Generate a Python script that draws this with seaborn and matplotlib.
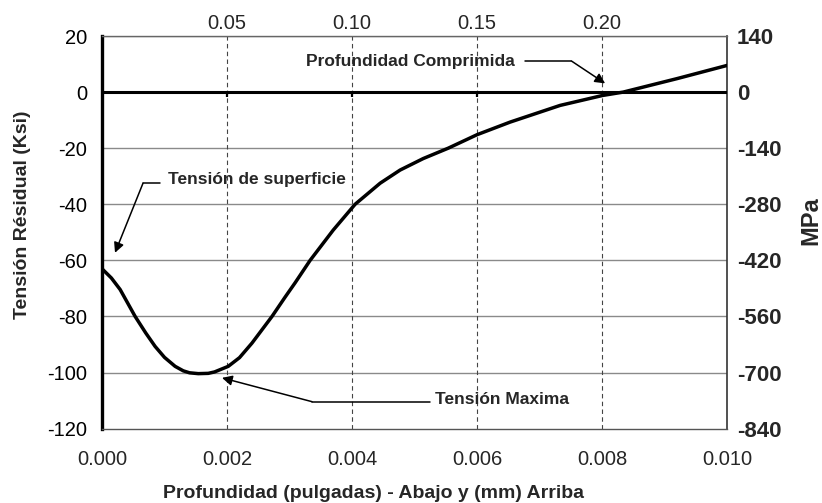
import numpy as np
import pandas as pd
import matplotlib
matplotlib.use("Agg")
import matplotlib.pyplot as plt
import seaborn as sns

# Data
depth_in = [0.0, 0.00015, 0.00029, 0.00053, 0.0007, 0.00085, 0.001, 0.00117, 0.0013,
            0.0014, 0.00154, 0.0017, 0.0018, 0.00202, 0.0022,
            0.0024, 0.00272, 0.00293, 0.00309, 0.00333, 0.0037, 0.00405, 0.00445,
            0.00477, 0.00514, 0.00554, 0.006, 0.00653, 0.00733, 0.00801, 0.00834,
            0.0092, 0.010]
stress_ksi = [-63.0, -66.3, -70.4, -80.0, -85.9, -90.7, -94.6, -97.8, -99.4,
              -100.1, -100.4, -100.3, -99.8, -97.8, -94.7,
              -89.5, -80.0, -73.1, -68.0, -60.0, -49.2, -40.0, -32.5,
              -27.8, -23.7, -20.0, -15.2, -10.7, -4.75, -1.2, 0.0,
              4.8, 9.5]

ksi_ticks = [20, 0, -20, -40, -60, -80, -100, -120]
in_ticks = [0.000, 0.002, 0.004, 0.006, 0.008, 0.010]
mm_ticks = [0.05, 0.10, 0.15, 0.20]
KSI_TO_MPA = 7.0
IN_TO_MM = 25.0

xlabel = "Profundidad (pulgadas) - Abajo y (mm) Arriba"
ylabel = "Tensión Résidual (Ksi)"
y2label = "MPa"

df = pd.DataFrame({"depth": depth_in, "stress": stress_ksi})

sns.set_style("white")
plt.rcParams["font.family"] = ["Liberation Sans", "DejaVu Sans"]

W, H = 822, 503
L, R, T, B = 102, 727, 36, 428.6
fig = plt.figure(figsize=(W / 100, H / 100), dpi=100)
ax = fig.add_axes([L / W, 1 - B / H, (R - L) / W, (B - T) / H])

# gridlines
for v in ksi_ticks:
    if v not in (0, -120):
        ax.axhline(v, color="#8a8a8a", lw=1.0, zorder=1)
for v in in_ticks[1:-1]:
    ax.axvline(v, color="#444444", lw=0.8, ls=(0, (4, 3)), zorder=1)

ax.axhline(0, color="black", lw=2.2, zorder=3)
ax.vlines(in_ticks[1:-1], -1.8, 0, color="black", lw=1.6, zorder=3)

sns.lineplot(data=df, x="depth", y="stress", ax=ax, color="black", lw=2.5, zorder=4)

ax.set_xlim(0, 0.010)
ax.set_ylim(-120, 20)
ax.set_xticks(in_ticks)
ax.set_xticklabels([f"{t:.3f}" for t in in_ticks])
ax.set_yticks(ksi_ticks)
ax.set_yticklabels([str(t) for t in ksi_ticks])
ax.tick_params(axis="y", direction="out", length=4, width=2.2, labelsize=14.5, pad=6.5, colors="black")
ax.tick_params(axis="x", length=0, labelsize=14.5, pad=15.5)

ax.spines["left"].set_linewidth(2.4)
ax.spines["left"].set_color("black")
ax.spines["bottom"].set_linewidth(1.0)
ax.spines["bottom"].set_color("#555555")
ax.spines["top"].set_linewidth(1.0)
ax.spines["top"].set_color("#666666")
ax.spines["right"].set_linewidth(1.2)
ax.spines["right"].set_color("#333333")

ax.set_xlabel(xlabel, fontsize=14, fontweight="bold")
ax.xaxis.set_label_coords((373 - L) / (R - L), (B - 493) / (B - T))
ax.xaxis.label.set_va("center")
ax.set_ylabel(ylabel, fontsize=14, fontweight="bold")
ax.yaxis.set_label_coords((23 - L) / (R - L), (B - 215) / (B - T))
ax.yaxis.label.set_rotation_mode("default")
ax.yaxis.label.set_va("center")
ax.yaxis.label.set_ha("center")

# Secondary axes
top = ax.secondary_xaxis("top", functions=(lambda x: x * IN_TO_MM, lambda x: x / IN_TO_MM))
top.set_xticks(mm_ticks)
top.set_xticklabels([f"{t:.2f}" for t in mm_ticks])
top.tick_params(length=0, labelsize=14.5, pad=2.5)
top.spines["top"].set_visible(False)

right = ax.secondary_yaxis("right", functions=(lambda y: y * KSI_TO_MPA, lambda y: y / KSI_TO_MPA))
mpa_ticks = [t * KSI_TO_MPA for t in ksi_ticks]
right.set_yticks(mpa_ticks)
right.set_yticklabels([str(int(t)) for t in mpa_ticks])
right.tick_params(length=0, labelsize=16, pad=7)
for lab in right.get_yticklabels():
    lab.set_fontweight("bold")
right.spines["right"].set_visible(False)
right.set_ylabel(y2label, fontsize=17, fontweight="bold")
right.yaxis.set_label_coords((811 - L) / (R - L), (B - 221) / (B - T), transform=ax.transAxes)
right.yaxis.label.set_rotation_mode("default")
right.yaxis.label.set_va("center")
right.yaxis.label.set_ha("center")

# Annotations
arrow = dict(arrowstyle="-|>", color="black", lw=1.1, mutation_scale=15, shrinkA=0, shrinkB=0)
line = dict(color="black", lw=1.1)
afont = dict(fontsize=12.5, fontweight="bold", va="center_baseline")

# Tensión de superficie
ax.text(0.00106, -30.6, "Tensión de superficie", ha="left", **afont)
ax.plot([0.000928, 0.000656], [-32.5, -32.5], **line)
ax.annotate("", xy=(0.000208, -57.3), xytext=(0.000656, -32.5), arrowprops=arrow)

# Profundidad Comprimida
ax.text(0.00661, 11.6, "Profundidad Comprimida", ha="right", **afont)
ax.plot([0.00677, 0.00751], [11.1, 11.1], **line)
ax.annotate("", xy=(0.00805, 3.1), xytext=(0.00751, 11.1), arrowprops=arrow)

# Tensión Maxima
ax.text(0.00533, -109.0, "Tensión Maxima", ha="left", **afont)
ax.plot([0.00525, 0.00336], [-110.4, -110.4], **line)
ax.annotate("", xy=(0.00192, -101.9), xytext=(0.00336, -110.4), arrowprops=arrow)

fig.savefig("out.png", dpi=100)
